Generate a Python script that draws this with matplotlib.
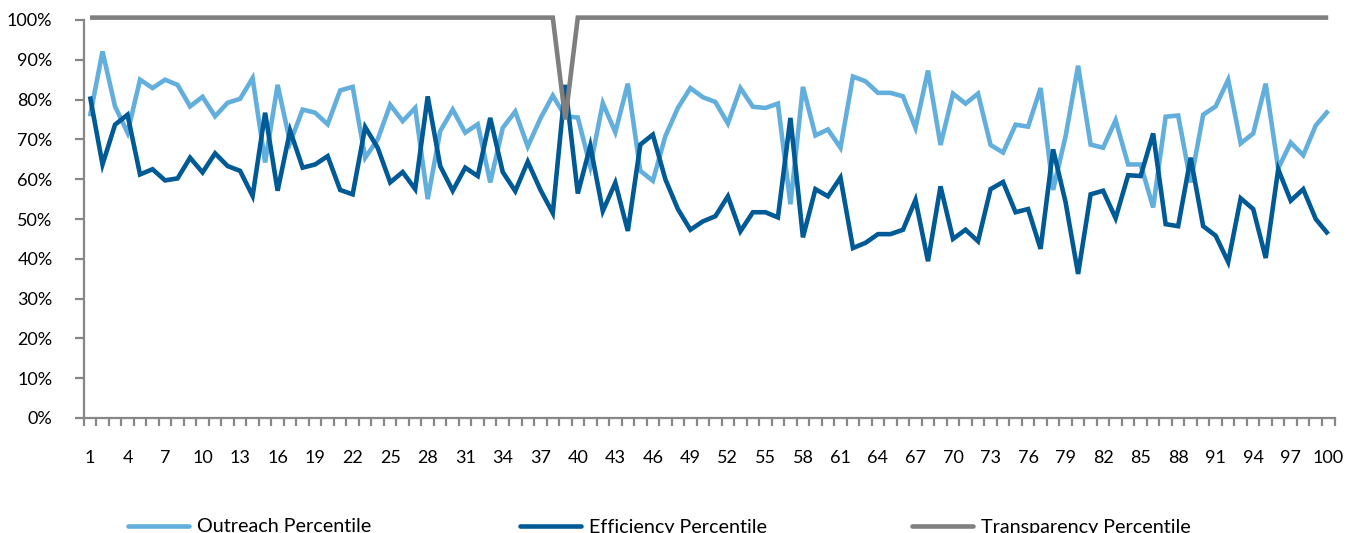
import matplotlib
matplotlib.use("Agg")
import matplotlib.pyplot as plt
from matplotlib.ticker import FixedLocator, FuncFormatter
from matplotlib.lines import Line2D

plt.rcParams['font.family'] = ['Lato', 'DejaVu Sans']

categories = list(range(1, 101))
tick_labels = [str(c) for c in range(1, 101, 3)]

outreach = [75.8, 92.1, 78.3, 71.7, 85.0, 82.9, 85.0, 83.7, 78.3, 80.7,
            75.8, 79.2, 80.2, 85.4, 64.2, 83.7, 69.2, 77.5, 76.7, 73.8,
            82.3, 83.2, 65.4, 70.0, 78.7, 74.6, 77.9, 55.0, 72.1, 77.5,
            71.7, 73.8, 59.2, 72.9, 77.0, 68.2, 75.2, 81.0, 75.8, 75.5,
            63.2, 79.1, 71.8, 84.0, 62.1, 59.6, 70.8, 77.9, 82.9, 80.6,
            79.4, 74.0, 82.9, 78.2, 77.9, 79.0, 53.7, 83.2, 71.0, 72.5,
            67.9, 85.8, 84.6, 81.7, 81.7, 80.8, 72.9, 87.3, 68.6, 81.5,
            79.0, 81.5, 68.6, 66.7, 73.7, 73.2, 82.9, 57.3, 70.8, 88.5,
            68.7, 67.9, 74.8, 63.7, 63.7, 52.9, 75.7, 76.0, 59.2, 76.2,
            78.3, 85.0, 69.0, 71.5, 84.0, 62.7, 69.2, 66.0, 73.5, 77.2]

efficiency = [80.8, 63.7, 73.7, 76.2, 61.2, 62.5, 59.7, 60.2, 65.4, 61.7,
              66.5, 63.3, 62.1, 55.8, 76.7, 57.1, 72.2, 62.9, 63.7, 65.8,
              57.3, 56.2, 73.1, 67.9, 59.2, 61.8, 57.5, 80.8, 63.3, 57.1,
              62.9, 60.8, 75.4, 61.8, 57.0, 64.4, 57.4, 51.5, 83.7, 56.4,
              68.4, 52.0, 59.1, 47.0, 68.7, 71.2, 60.0, 52.5, 47.3, 49.4,
              50.7, 55.7, 46.9, 51.7, 51.7, 50.4, 75.4, 45.4, 57.5, 55.7,
              60.4, 42.7, 44.0, 46.2, 46.2, 47.3, 54.8, 39.4, 58.2, 45.0,
              47.3, 44.4, 57.5, 59.3, 51.7, 52.5, 42.5, 67.5, 54.2, 36.2,
              56.2, 57.1, 50.2, 61.0, 60.8, 71.5, 48.7, 48.2, 65.4, 48.2,
              45.8, 39.2, 55.2, 52.5, 40.2, 62.5, 54.6, 57.5, 50.0, 46.2]

transparency = [100.6] * 38 + [75.0] + [100.6] * 61

series_names = ["Outreach Percentile", "Efficiency Percentile", "Transparency Percentile"]
colors = ["#62AEDC", "#005A96", "#7F7F7F"]

fig = plt.figure(figsize=(13.47, 5.33), dpi=100)
ax = fig.add_axes([83.75 / 1347, (533 - 418) / 533, (1334.5 - 83.75) / 1347, 398 / 533])

lw = 3.3
handles = []
for vals, name, col in zip([outreach, efficiency, transparency], series_names, colors):
    h, = ax.plot(categories, vals, color=col, lw=lw, label=name,
                 solid_joinstyle='miter', solid_capstyle='butt', clip_on=False)
    handles.append(h)

ax.set_xlim(0.5, 100.5)
ax.set_ylim(0, 100)

axis_col = "#878787"
for s in ["top", "right"]:
    ax.spines[s].set_visible(False)
for s in ["left", "bottom"]:
    ax.spines[s].set_color(axis_col)
    ax.spines[s].set_linewidth(1.6)

ax.set_yticks(range(0, 101, 10))
ax.yaxis.set_major_formatter(FuncFormatter(lambda v, p: f"{int(v)}%"))
ax.tick_params(axis='y', direction='out', length=6.5, width=1.6, color=axis_col,
               pad=16, labelsize=13, labelcolor='black')

ax.set_xticks(list(range(1, 101, 3)))
ax.set_xticklabels(tick_labels)
ax.xaxis.set_minor_locator(FixedLocator([c + 0.5 for c in range(0, 101)]))
ax.tick_params(axis='x', which='major', length=0, pad=23, labelsize=13, labelcolor='black')
ax.tick_params(axis='x', which='minor', direction='out', length=6, width=1.6, color=axis_col)

legend_x = [128 / 1347, 520 / 1347, 912 / 1347]
for h, lx in zip(handles, legend_x):
    proxy = Line2D([], [], color=h.get_color(), lw=lw, solid_capstyle='round')
    fig.legend(handles=[proxy], labels=[h.get_label()], loc='center left',
               bbox_to_anchor=(lx, (533 - 527) / 533), frameon=False,
               fontsize=14.2, handlelength=3.1, handletextpad=0.4,
               borderpad=0, borderaxespad=0)

fig.savefig("out.png", dpi=100)
